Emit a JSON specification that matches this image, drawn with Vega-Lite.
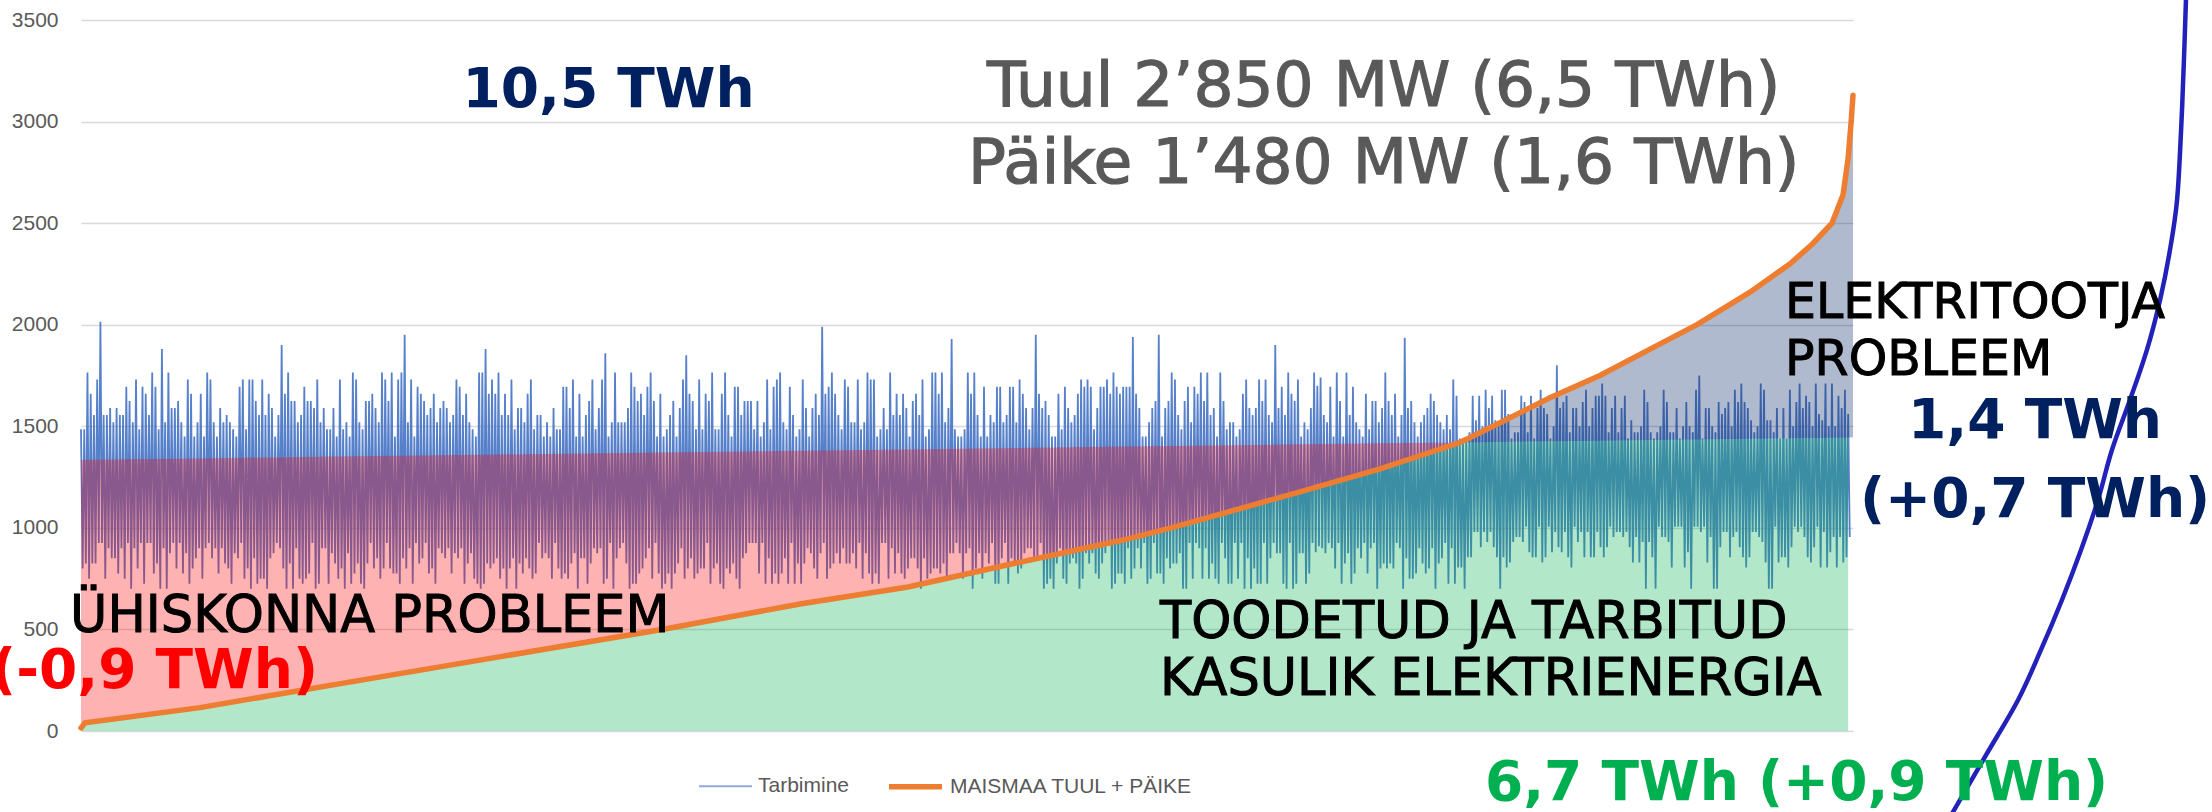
{
"$schema": "https://vega.github.io/schema/vega-lite/v6.json",
"autosize": {"type": "none"},
"width": 1772, "height": 711,
"padding": {"left": 81, "top": 20, "right": 359, "bottom": 81},
"background": "white",
"datasets": {
"cons": [
{"h":0,"c":1485},{"h":8,"c":800},{"h":16,"c":1485},{"h":24,"c":825},{"h":32,"c":1765},{"h":40,"c":750},{"h":48,"c":1660},{"h":56,"c":825},{"h":64,"c":1555},{"h":72,"c":825},
{"h":80,"c":1730},{"h":88,"c":925},{"h":96,"c":2015},{"h":104,"c":925},{"h":112,"c":1555},{"h":120,"c":750},{"h":128,"c":1555},{"h":136,"c":900},{"h":144,"c":1590},{"h":152,"c":850},
{"h":160,"c":1520},{"h":168,"c":850},{"h":176,"c":1590},{"h":184,"c":775},{"h":192,"c":1555},{"h":200,"c":900},{"h":208,"c":1555},{"h":216,"c":750},{"h":224,"c":1695},{"h":232,"c":925},
{"h":240,"c":1625},{"h":248,"c":700},{"h":256,"c":1520},{"h":264,"c":900},{"h":272,"c":1730},{"h":280,"c":800},{"h":288,"c":1485},{"h":296,"c":925},{"h":304,"c":1695},{"h":312,"c":725},
{"h":320,"c":1660},{"h":328,"c":925},{"h":336,"c":1555},{"h":344,"c":925},{"h":352,"c":1765},{"h":360,"c":775},{"h":368,"c":1695},{"h":376,"c":825},{"h":384,"c":1485},{"h":392,"c":700},
{"h":400,"c":1880},{"h":408,"c":900},{"h":416,"c":1520},{"h":424,"c":700},{"h":432,"c":1765},{"h":440,"c":875},{"h":448,"c":1590},{"h":456,"c":925},{"h":464,"c":1590},{"h":472,"c":800},
{"h":480,"c":1625},{"h":488,"c":925},{"h":496,"c":1520},{"h":504,"c":775},{"h":512,"c":1450},{"h":520,"c":875},{"h":528,"c":1730},{"h":536,"c":725},{"h":544,"c":1660},{"h":552,"c":800},
{"h":560,"c":1450},{"h":568,"c":850},{"h":576,"c":1520},{"h":584,"c":900},{"h":592,"c":1660},{"h":600,"c":750},{"h":608,"c":1450},{"h":616,"c":900},{"h":624,"c":1765},{"h":632,"c":925},
{"h":640,"c":1730},{"h":648,"c":850},{"h":656,"c":1520},{"h":664,"c":900},{"h":672,"c":1450},{"h":680,"c":775},{"h":688,"c":1590},{"h":696,"c":900},{"h":704,"c":1520},{"h":712,"c":825},
{"h":720,"c":1555},{"h":728,"c":800},{"h":736,"c":1520},{"h":744,"c":725},{"h":752,"c":1485},{"h":760,"c":875},{"h":768,"c":1450},{"h":776,"c":850},{"h":784,"c":1695},{"h":792,"c":925},
{"h":800,"c":1730},{"h":808,"c":750},{"h":816,"c":1485},{"h":824,"c":800},{"h":832,"c":1730},{"h":840,"c":700},{"h":848,"c":1730},{"h":856,"c":850},{"h":864,"c":1625},{"h":872,"c":725},
{"h":880,"c":1555},{"h":888,"c":750},{"h":896,"c":1730},{"h":904,"c":750},{"h":912,"c":1555},{"h":920,"c":700},{"h":928,"c":1660},{"h":936,"c":850},{"h":944,"c":1590},{"h":952,"c":875},
{"h":960,"c":1450},{"h":968,"c":925},{"h":976,"c":1555},{"h":984,"c":900},{"h":992,"c":1900},{"h":1000,"c":800},{"h":1008,"c":1660},{"h":1016,"c":700},{"h":1024,"c":1765},{"h":1032,"c":825},
{"h":1040,"c":1625},{"h":1048,"c":700},{"h":1056,"c":1625},{"h":1064,"c":900},{"h":1072,"c":1520},{"h":1080,"c":750},{"h":1088,"c":1555},{"h":1096,"c":725},{"h":1104,"c":1695},{"h":1112,"c":750},
{"h":1120,"c":1625},{"h":1128,"c":775},{"h":1136,"c":1625},{"h":1144,"c":925},{"h":1152,"c":1590},{"h":1160,"c":700},{"h":1168,"c":1730},{"h":1176,"c":725},{"h":1184,"c":1520},{"h":1192,"c":900},
{"h":1200,"c":1590},{"h":1208,"c":900},{"h":1216,"c":1485},{"h":1224,"c":725},{"h":1232,"c":1485},{"h":1240,"c":875},{"h":1248,"c":1590},{"h":1256,"c":825},{"h":1264,"c":1450},{"h":1272,"c":750},
{"h":1280,"c":1730},{"h":1288,"c":800},{"h":1296,"c":1485},{"h":1304,"c":700},{"h":1312,"c":1520},{"h":1320,"c":875},{"h":1328,"c":1450},{"h":1336,"c":725},{"h":1344,"c":1765},{"h":1352,"c":775},
{"h":1360,"c":1730},{"h":1368,"c":825},{"h":1376,"c":1520},{"h":1384,"c":725},{"h":1392,"c":1485},{"h":1400,"c":700},{"h":1408,"c":1625},{"h":1416,"c":825},{"h":1424,"c":1625},{"h":1432,"c":925},
{"h":1440,"c":1660},{"h":1448,"c":800},{"h":1456,"c":1590},{"h":1464,"c":850},{"h":1472,"c":1520},{"h":1480,"c":750},{"h":1488,"c":1765},{"h":1496,"c":800},{"h":1504,"c":1730},{"h":1512,"c":925},
{"h":1520,"c":1625},{"h":1528,"c":800},{"h":1536,"c":1765},{"h":1544,"c":775},{"h":1552,"c":1450},{"h":1560,"c":775},{"h":1568,"c":1730},{"h":1576,"c":725},{"h":1584,"c":1765},{"h":1592,"c":850},
{"h":1600,"c":1950},{"h":1608,"c":800},{"h":1616,"c":1520},{"h":1624,"c":900},{"h":1632,"c":1730},{"h":1640,"c":725},{"h":1648,"c":1450},{"h":1656,"c":925},{"h":1664,"c":1695},{"h":1672,"c":825},
{"h":1680,"c":1660},{"h":1688,"c":850},{"h":1696,"c":1625},{"h":1704,"c":925},{"h":1712,"c":1555},{"h":1720,"c":775},{"h":1728,"c":1590},{"h":1736,"c":800},{"h":1744,"c":1660},{"h":1752,"c":725},
{"h":1760,"c":1520},{"h":1768,"c":900},{"h":1776,"c":1590},{"h":1784,"c":875},{"h":1792,"c":1625},{"h":1800,"c":850},{"h":1808,"c":1590},{"h":1816,"c":900},{"h":1824,"c":1520},{"h":1832,"c":775},
{"h":1840,"c":1555},{"h":1848,"c":875},{"h":1856,"c":1730},{"h":1864,"c":850},{"h":1872,"c":1695},{"h":1880,"c":900},{"h":1888,"c":1555},{"h":1896,"c":725},{"h":1904,"c":1660},{"h":1912,"c":825},
{"h":1920,"c":1520},{"h":1928,"c":875},{"h":1936,"c":1485},{"h":1944,"c":750},{"h":1952,"c":1450},{"h":1960,"c":725},{"h":1968,"c":1765},{"h":1976,"c":700},{"h":1984,"c":1765},{"h":1992,"c":725},
{"h":2000,"c":1880},{"h":2008,"c":825},{"h":2016,"c":1660},{"h":2024,"c":800},{"h":2032,"c":1730},{"h":2040,"c":825},{"h":2048,"c":1660},{"h":2056,"c":850},{"h":2064,"c":1765},{"h":2072,"c":750},
{"h":2080,"c":1555},{"h":2088,"c":800},{"h":2096,"c":1660},{"h":2104,"c":700},{"h":2112,"c":1555},{"h":2120,"c":800},{"h":2128,"c":1730},{"h":2136,"c":850},{"h":2144,"c":1485},{"h":2152,"c":700},
{"h":2160,"c":1590},{"h":2168,"c":825},{"h":2176,"c":1590},{"h":2184,"c":775},{"h":2192,"c":1520},{"h":2200,"c":850},{"h":2208,"c":1660},{"h":2216,"c":800},{"h":2224,"c":1730},{"h":2232,"c":750},
{"h":2240,"c":1485},{"h":2248,"c":775},{"h":2256,"c":1555},{"h":2264,"c":925},{"h":2272,"c":1555},{"h":2280,"c":850},{"h":2288,"c":1450},{"h":2296,"c":875},{"h":2304,"c":1520},{"h":2312,"c":850},
{"h":2320,"c":1450},{"h":2328,"c":750},{"h":2336,"c":1590},{"h":2344,"c":925},{"h":2352,"c":1485},{"h":2360,"c":800},{"h":2368,"c":1485},{"h":2376,"c":750},{"h":2384,"c":1695},{"h":2392,"c":775},
{"h":2400,"c":1695},{"h":2408,"c":750},{"h":2416,"c":1590},{"h":2424,"c":825},{"h":2432,"c":1730},{"h":2440,"c":875},{"h":2448,"c":1450},{"h":2456,"c":700},{"h":2464,"c":1660},{"h":2472,"c":850},
{"h":2480,"c":1450},{"h":2488,"c":850},{"h":2496,"c":1555},{"h":2504,"c":725},{"h":2512,"c":1625},{"h":2520,"c":825},{"h":2528,"c":1730},{"h":2536,"c":900},{"h":2544,"c":1485},{"h":2552,"c":875},
{"h":2560,"c":1590},{"h":2568,"c":900},{"h":2576,"c":1730},{"h":2584,"c":725},{"h":2592,"c":1860},{"h":2600,"c":750},{"h":2608,"c":1450},{"h":2616,"c":925},{"h":2624,"c":1520},{"h":2632,"c":700},
{"h":2640,"c":1765},{"h":2648,"c":850},{"h":2656,"c":1520},{"h":2664,"c":900},{"h":2672,"c":1520},{"h":2680,"c":925},{"h":2688,"c":1520},{"h":2696,"c":825},{"h":2704,"c":1590},{"h":2712,"c":700},
{"h":2720,"c":1765},{"h":2728,"c":725},{"h":2736,"c":1695},{"h":2744,"c":725},{"h":2752,"c":1625},{"h":2760,"c":775},{"h":2768,"c":1660},{"h":2776,"c":800},{"h":2784,"c":1555},{"h":2792,"c":850},
{"h":2800,"c":1695},{"h":2808,"c":900},{"h":2816,"c":1765},{"h":2824,"c":750},{"h":2832,"c":1625},{"h":2840,"c":925},{"h":2848,"c":1450},{"h":2856,"c":775},{"h":2864,"c":1660},{"h":2872,"c":700},
{"h":2880,"c":1450},{"h":2888,"c":725},{"h":2896,"c":1485},{"h":2904,"c":775},{"h":2912,"c":1555},{"h":2920,"c":700},{"h":2928,"c":1625},{"h":2936,"c":775},{"h":2944,"c":1450},{"h":2952,"c":825},
{"h":2960,"c":1590},{"h":2968,"c":900},{"h":2976,"c":1730},{"h":2984,"c":750},{"h":2992,"c":1850},{"h":3000,"c":800},{"h":3008,"c":1660},{"h":3016,"c":850},{"h":3024,"c":1625},{"h":3032,"c":750},
{"h":3040,"c":1485},{"h":3048,"c":775},{"h":3056,"c":1730},{"h":3064,"c":800},{"h":3072,"c":1485},{"h":3080,"c":800},{"h":3088,"c":1660},{"h":3096,"c":925},{"h":3104,"c":1625},{"h":3112,"c":725},
{"h":3120,"c":1765},{"h":3128,"c":800},{"h":3136,"c":1485},{"h":3144,"c":825},{"h":3152,"c":1485},{"h":3160,"c":725},{"h":3168,"c":1660},{"h":3176,"c":700},{"h":3184,"c":1765},{"h":3192,"c":800},
{"h":3200,"c":1555},{"h":3208,"c":775},{"h":3216,"c":1450},{"h":3224,"c":825},{"h":3232,"c":1695},{"h":3240,"c":750},{"h":3248,"c":1695},{"h":3256,"c":700},{"h":3264,"c":1555},{"h":3272,"c":850},
{"h":3280,"c":1625},{"h":3288,"c":875},{"h":3296,"c":1625},{"h":3304,"c":925},{"h":3312,"c":1625},{"h":3320,"c":925},{"h":3328,"c":1485},{"h":3336,"c":925},{"h":3344,"c":1625},{"h":3352,"c":775},
{"h":3360,"c":1450},{"h":3368,"c":925},{"h":3376,"c":1520},{"h":3384,"c":725},{"h":3392,"c":1730},{"h":3400,"c":850},{"h":3408,"c":1485},{"h":3416,"c":725},{"h":3424,"c":1695},{"h":3432,"c":775},
{"h":3440,"c":1730},{"h":3448,"c":725},{"h":3456,"c":1765},{"h":3464,"c":775},{"h":3472,"c":1520},{"h":3480,"c":850},{"h":3488,"c":1485},{"h":3496,"c":725},{"h":3504,"c":1695},{"h":3512,"c":925},
{"h":3520,"c":1555},{"h":3528,"c":725},{"h":3536,"c":1450},{"h":3544,"c":825},{"h":3552,"c":1485},{"h":3560,"c":725},{"h":3568,"c":1730},{"h":3576,"c":825},{"h":3584,"c":1590},{"h":3592,"c":900},
{"h":3600,"c":1450},{"h":3608,"c":875},{"h":3616,"c":1590},{"h":3624,"c":800},{"h":3632,"c":1660},{"h":3640,"c":750},{"h":3648,"c":1555},{"h":3656,"c":875},{"h":3664,"c":1990},{"h":3672,"c":925},
{"h":3680,"c":1660},{"h":3688,"c":750},{"h":3696,"c":1695},{"h":3704,"c":800},{"h":3712,"c":1765},{"h":3720,"c":825},{"h":3728,"c":1660},{"h":3736,"c":875},{"h":3744,"c":1555},{"h":3752,"c":825},
{"h":3760,"c":1485},{"h":3768,"c":900},{"h":3776,"c":1730},{"h":3784,"c":825},{"h":3792,"c":1695},{"h":3800,"c":825},{"h":3808,"c":1520},{"h":3816,"c":875},{"h":3824,"c":1520},{"h":3832,"c":800},
{"h":3840,"c":1730},{"h":3848,"c":925},{"h":3856,"c":1485},{"h":3864,"c":750},{"h":3872,"c":1520},{"h":3880,"c":875},{"h":3888,"c":1765},{"h":3896,"c":775},{"h":3904,"c":1730},{"h":3912,"c":725},
{"h":3920,"c":1730},{"h":3928,"c":775},{"h":3936,"c":1450},{"h":3944,"c":725},{"h":3952,"c":1485},{"h":3960,"c":925},{"h":3968,"c":1590},{"h":3976,"c":925},{"h":3984,"c":1485},{"h":3992,"c":750},
{"h":4000,"c":1765},{"h":4008,"c":900},{"h":4016,"c":1555},{"h":4024,"c":775},{"h":4032,"c":1660},{"h":4040,"c":875},{"h":4048,"c":1555},{"h":4056,"c":775},{"h":4064,"c":1660},{"h":4072,"c":750},
{"h":4080,"c":1590},{"h":4088,"c":800},{"h":4096,"c":1450},{"h":4104,"c":850},{"h":4112,"c":1625},{"h":4120,"c":850},{"h":4128,"c":1660},{"h":4136,"c":800},{"h":4144,"c":1555},{"h":4152,"c":700},
{"h":4160,"c":1730},{"h":4168,"c":850},{"h":4176,"c":1450},{"h":4184,"c":750},{"h":4192,"c":1485},{"h":4200,"c":775},{"h":4208,"c":1765},{"h":4216,"c":800},{"h":4224,"c":1765},{"h":4232,"c":800},
{"h":4240,"c":1660},{"h":4248,"c":775},{"h":4256,"c":1765},{"h":4264,"c":825},{"h":4272,"c":1520},{"h":4280,"c":750},{"h":4288,"c":1590},{"h":4296,"c":875},{"h":4304,"c":1930},{"h":4312,"c":875},
{"h":4320,"c":1485},{"h":4328,"c":925},{"h":4336,"c":1450},{"h":4344,"c":875},{"h":4352,"c":1450},{"h":4360,"c":750},{"h":4368,"c":1485},{"h":4376,"c":875},{"h":4384,"c":1765},{"h":4392,"c":900},
{"h":4400,"c":1660},{"h":4408,"c":700},{"h":4416,"c":1765},{"h":4424,"c":800},{"h":4432,"c":1555},{"h":4440,"c":875},{"h":4448,"c":1450},{"h":4456,"c":750},{"h":4464,"c":1695},{"h":4472,"c":875},
{"h":4480,"c":1450},{"h":4488,"c":825},{"h":4496,"c":1555},{"h":4504,"c":925},{"h":4512,"c":1520},{"h":4520,"c":725},{"h":4528,"c":1695},{"h":4536,"c":725},{"h":4544,"c":1695},{"h":4552,"c":850},
{"h":4560,"c":1520},{"h":4568,"c":925},{"h":4576,"c":1555},{"h":4584,"c":725},{"h":4592,"c":1695},{"h":4600,"c":850},{"h":4608,"c":1695},{"h":4616,"c":825},{"h":4624,"c":1520},{"h":4632,"c":775},
{"h":4640,"c":1730},{"h":4648,"c":800},{"h":4656,"c":1660},{"h":4664,"c":875},{"h":4672,"c":1590},{"h":4680,"c":900},{"h":4688,"c":1485},{"h":4696,"c":900},{"h":4704,"c":1590},{"h":4712,"c":850},
{"h":4720,"c":1950},{"h":4728,"c":850},{"h":4736,"c":1660},{"h":4744,"c":925},{"h":4752,"c":1590},{"h":4760,"c":700},{"h":4768,"c":1625},{"h":4776,"c":725},{"h":4784,"c":1555},{"h":4792,"c":750},
{"h":4800,"c":1450},{"h":4808,"c":700},{"h":4816,"c":1450},{"h":4824,"c":825},{"h":4832,"c":1660},{"h":4840,"c":900},{"h":4848,"c":1485},{"h":4856,"c":750},{"h":4864,"c":1695},{"h":4872,"c":725},
{"h":4880,"c":1590},{"h":4888,"c":825},{"h":4896,"c":1520},{"h":4904,"c":850},{"h":4912,"c":1555},{"h":4920,"c":825},{"h":4928,"c":1660},{"h":4936,"c":700},{"h":4944,"c":1730},{"h":4952,"c":750},
{"h":4960,"c":1695},{"h":4968,"c":875},{"h":4976,"c":1730},{"h":4984,"c":825},{"h":4992,"c":1695},{"h":5000,"c":875},{"h":5008,"c":1485},{"h":5016,"c":775},{"h":5024,"c":1590},{"h":5032,"c":750},
{"h":5040,"c":1695},{"h":5048,"c":825},{"h":5056,"c":1695},{"h":5064,"c":875},{"h":5072,"c":1730},{"h":5080,"c":925},{"h":5088,"c":1660},{"h":5096,"c":700},{"h":5104,"c":1765},{"h":5112,"c":725},
{"h":5120,"c":1695},{"h":5128,"c":775},{"h":5136,"c":1660},{"h":5144,"c":775},{"h":5152,"c":1695},{"h":5160,"c":725},{"h":5168,"c":1695},{"h":5176,"c":900},{"h":5184,"c":1695},{"h":5192,"c":750},
{"h":5200,"c":1940},{"h":5208,"c":800},{"h":5216,"c":1660},{"h":5224,"c":900},{"h":5232,"c":1590},{"h":5240,"c":800},{"h":5248,"c":1450},{"h":5256,"c":925},{"h":5264,"c":1450},{"h":5272,"c":725},
{"h":5280,"c":1520},{"h":5288,"c":750},{"h":5296,"c":1590},{"h":5304,"c":925},{"h":5312,"c":1625},{"h":5320,"c":775},{"h":5328,"c":1950},{"h":5336,"c":775},{"h":5344,"c":1450},{"h":5352,"c":725},
{"h":5360,"c":1590},{"h":5368,"c":850},{"h":5376,"c":1625},{"h":5384,"c":800},{"h":5392,"c":1765},{"h":5400,"c":825},{"h":5408,"c":1730},{"h":5416,"c":825},{"h":5424,"c":1555},{"h":5432,"c":875},
{"h":5440,"c":1485},{"h":5448,"c":700},{"h":5456,"c":1625},{"h":5464,"c":700},{"h":5472,"c":1695},{"h":5480,"c":925},{"h":5488,"c":1520},{"h":5496,"c":750},{"h":5504,"c":1695},{"h":5512,"c":925},
{"h":5520,"c":1660},{"h":5528,"c":900},{"h":5536,"c":1765},{"h":5544,"c":750},{"h":5552,"c":1625},{"h":5560,"c":900},{"h":5568,"c":1765},{"h":5576,"c":750},{"h":5584,"c":1555},{"h":5592,"c":825},
{"h":5600,"c":1590},{"h":5608,"c":750},{"h":5616,"c":1450},{"h":5624,"c":725},{"h":5632,"c":1765},{"h":5640,"c":925},{"h":5648,"c":1625},{"h":5656,"c":850},{"h":5664,"c":1485},{"h":5672,"c":725},
{"h":5680,"c":1520},{"h":5688,"c":725},{"h":5696,"c":1520},{"h":5704,"c":925},{"h":5712,"c":1450},{"h":5720,"c":750},{"h":5728,"c":1485},{"h":5736,"c":925},{"h":5744,"c":1660},{"h":5752,"c":700},
{"h":5760,"c":1730},{"h":5768,"c":850},{"h":5776,"c":1590},{"h":5784,"c":700},{"h":5792,"c":1555},{"h":5800,"c":800},{"h":5808,"c":1590},{"h":5816,"c":725},{"h":5824,"c":1730},{"h":5832,"c":725},
{"h":5840,"c":1625},{"h":5848,"c":925},{"h":5856,"c":1730},{"h":5864,"c":725},{"h":5872,"c":1555},{"h":5880,"c":850},{"h":5888,"c":1520},{"h":5896,"c":925},{"h":5904,"c":1900},{"h":5912,"c":875},
{"h":5920,"c":1590},{"h":5928,"c":875},{"h":5936,"c":1695},{"h":5944,"c":725},{"h":5952,"c":1555},{"h":5960,"c":700},{"h":5968,"c":1765},{"h":5976,"c":925},{"h":5984,"c":1660},{"h":5992,"c":700},
{"h":6000,"c":1625},{"h":6008,"c":725},{"h":6016,"c":1730},{"h":6024,"c":875},{"h":6032,"c":1450},{"h":6040,"c":875},{"h":6048,"c":1520},{"h":6056,"c":725},{"h":6064,"c":1485},{"h":6072,"c":775},
{"h":6080,"c":1590},{"h":6088,"c":925},{"h":6096,"c":1765},{"h":6104,"c":880},{"h":6112,"c":1700},{"h":6120,"c":910},{"h":6128,"c":1740},{"h":6136,"c":900},{"h":6144,"c":1555},{"h":6152,"c":875},
{"h":6160,"c":1520},{"h":6168,"c":925},{"h":6176,"c":1695},{"h":6184,"c":900},{"h":6192,"c":1450},{"h":6200,"c":800},{"h":6208,"c":1765},{"h":6216,"c":925},{"h":6224,"c":1625},{"h":6232,"c":725},
{"h":6240,"c":1450},{"h":6248,"c":825},{"h":6256,"c":1765},{"h":6264,"c":875},{"h":6272,"c":1555},{"h":6280,"c":725},{"h":6288,"c":1695},{"h":6296,"c":775},{"h":6304,"c":1520},{"h":6312,"c":900},
{"h":6320,"c":1485},{"h":6328,"c":850},{"h":6336,"c":1450},{"h":6344,"c":925},{"h":6352,"c":1660},{"h":6360,"c":775},{"h":6368,"c":1485},{"h":6376,"c":900},{"h":6384,"c":1625},{"h":6392,"c":925},
{"h":6400,"c":1625},{"h":6408,"c":700},{"h":6416,"c":1520},{"h":6424,"c":800},{"h":6432,"c":1590},{"h":6440,"c":825},{"h":6448,"c":1765},{"h":6456,"c":800},{"h":6464,"c":1625},{"h":6472,"c":825},
{"h":6480,"c":1555},{"h":6488,"c":800},{"h":6496,"c":1660},{"h":6504,"c":925},{"h":6512,"c":1450},{"h":6520,"c":900},{"h":6528,"c":1555},{"h":6536,"c":700},{"h":6544,"c":1936},{"h":6552,"c":850},
{"h":6560,"c":1590},{"h":6568,"c":750},{"h":6576,"c":1625},{"h":6584,"c":750},{"h":6592,"c":1520},{"h":6600,"c":775},{"h":6608,"c":1450},{"h":6616,"c":900},{"h":6624,"c":1520},{"h":6632,"c":825},
{"h":6640,"c":1555},{"h":6648,"c":775},{"h":6656,"c":1590},{"h":6664,"c":800},{"h":6672,"c":1660},{"h":6680,"c":900},{"h":6688,"c":1625},{"h":6696,"c":700},{"h":6704,"c":1555},{"h":6712,"c":825},
{"h":6720,"c":1520},{"h":6728,"c":850},{"h":6736,"c":1485},{"h":6744,"c":925},{"h":6752,"c":1555},{"h":6760,"c":725},{"h":6768,"c":1485},{"h":6776,"c":900},{"h":6784,"c":1730},{"h":6792,"c":725},
{"h":6800,"c":1650},{"h":6808,"c":805},{"h":6816,"c":1440},{"h":6824,"c":805},{"h":6832,"c":1440},{"h":6840,"c":700},{"h":6848,"c":1440},{"h":6856,"c":855},{"h":6864,"c":1470},{"h":6872,"c":855},
{"h":6880,"c":1650},{"h":6888,"c":980},{"h":6896,"c":1530},{"h":6904,"c":980},{"h":6912,"c":1650},{"h":6920,"c":905},{"h":6928,"c":1500},{"h":6936,"c":980},{"h":6944,"c":1680},{"h":6952,"c":930},
{"h":6960,"c":1590},{"h":6968,"c":980},{"h":6976,"c":1650},{"h":6984,"c":905},{"h":6992,"c":1530},{"h":7000,"c":855},{"h":7008,"c":1500},{"h":7016,"c":700},{"h":7024,"c":1680},{"h":7032,"c":855},
{"h":7040,"c":1680},{"h":7048,"c":805},{"h":7056,"c":1560},{"h":7064,"c":830},{"h":7072,"c":1440},{"h":7080,"c":930},{"h":7088,"c":1470},{"h":7096,"c":955},{"h":7104,"c":1470},{"h":7112,"c":955},
{"h":7120,"c":1650},{"h":7128,"c":930},{"h":7136,"c":1620},{"h":7144,"c":1005},{"h":7152,"c":1470},{"h":7160,"c":880},{"h":7168,"c":1650},{"h":7176,"c":855},{"h":7184,"c":1440},{"h":7192,"c":855},
{"h":7200,"c":1590},{"h":7208,"c":1005},{"h":7216,"c":1680},{"h":7224,"c":830},{"h":7232,"c":1590},{"h":7240,"c":855},{"h":7248,"c":1560},{"h":7256,"c":1005},{"h":7264,"c":1440},{"h":7272,"c":880},
{"h":7280,"c":1500},{"h":7288,"c":980},{"h":7296,"c":1800},{"h":7304,"c":905},{"h":7312,"c":1590},{"h":7320,"c":880},{"h":7328,"c":1620},{"h":7336,"c":980},{"h":7344,"c":1650},{"h":7352,"c":855},
{"h":7360,"c":1470},{"h":7368,"c":805},{"h":7376,"c":1590},{"h":7384,"c":1005},{"h":7392,"c":1590},{"h":7400,"c":930},{"h":7408,"c":1500},{"h":7416,"c":980},{"h":7424,"c":1620},{"h":7432,"c":855},
{"h":7440,"c":1680},{"h":7448,"c":980},{"h":7456,"c":1500},{"h":7464,"c":855},{"h":7472,"c":1590},{"h":7480,"c":855},{"h":7488,"c":1650},{"h":7496,"c":980},{"h":7504,"c":1650},{"h":7512,"c":905},
{"h":7520,"c":1710},{"h":7528,"c":855},{"h":7536,"c":1650},{"h":7544,"c":905},{"h":7552,"c":1470},{"h":7560,"c":1005},{"h":7568,"c":1590},{"h":7576,"c":955},{"h":7584,"c":1650},{"h":7592,"c":980},
{"h":7600,"c":1470},{"h":7608,"c":980},{"h":7616,"c":1590},{"h":7624,"c":955},{"h":7632,"c":1650},{"h":7640,"c":980},{"h":7648,"c":1440},{"h":7656,"c":905},{"h":7664,"c":1530},{"h":7672,"c":830},
{"h":7680,"c":1470},{"h":7688,"c":955},{"h":7696,"c":1470},{"h":7704,"c":830},{"h":7712,"c":1500},{"h":7720,"c":930},{"h":7728,"c":1680},{"h":7736,"c":700},{"h":7744,"c":1620},{"h":7752,"c":930},
{"h":7760,"c":1470},{"h":7768,"c":855},{"h":7776,"c":1440},{"h":7784,"c":700},{"h":7792,"c":1470},{"h":7800,"c":1005},{"h":7808,"c":1500},{"h":7816,"c":955},{"h":7824,"c":1680},{"h":7832,"c":955},
{"h":7840,"c":1620},{"h":7848,"c":930},{"h":7856,"c":1470},{"h":7864,"c":805},{"h":7872,"c":1470},{"h":7880,"c":1005},{"h":7888,"c":1590},{"h":7896,"c":1005},{"h":7904,"c":1440},{"h":7912,"c":1005},
{"h":7920,"c":1500},{"h":7928,"c":805},{"h":7936,"c":1620},{"h":7944,"c":880},{"h":7952,"c":1500},{"h":7960,"c":700},{"h":7968,"c":1470},{"h":7976,"c":1005},{"h":7984,"c":1680},{"h":7992,"c":1005},
{"h":8000,"c":1750},{"h":8008,"c":980},{"h":8016,"c":1440},{"h":8024,"c":1005},{"h":8032,"c":1590},{"h":8040,"c":830},{"h":8048,"c":1590},{"h":8056,"c":955},{"h":8064,"c":1500},{"h":8072,"c":700},
{"h":8080,"c":1470},{"h":8088,"c":700},{"h":8096,"c":1620},{"h":8104,"c":905},{"h":8112,"c":1560},{"h":8120,"c":980},{"h":8128,"c":1590},{"h":8136,"c":980},{"h":8144,"c":1620},{"h":8152,"c":855},
{"h":8160,"c":1500},{"h":8168,"c":955},{"h":8176,"c":1680},{"h":8184,"c":980},{"h":8192,"c":1620},{"h":8200,"c":905},{"h":8208,"c":1710},{"h":8216,"c":855},{"h":8224,"c":1620},{"h":8232,"c":805},
{"h":8240,"c":1590},{"h":8248,"c":855},{"h":8256,"c":1530},{"h":8264,"c":980},{"h":8272,"c":1470},{"h":8280,"c":980},{"h":8288,"c":1500},{"h":8296,"c":955},{"h":8304,"c":1710},{"h":8312,"c":930},
{"h":8320,"c":1680},{"h":8328,"c":830},{"h":8336,"c":1530},{"h":8344,"c":700},{"h":8352,"c":1530},{"h":8360,"c":700},{"h":8368,"c":1470},{"h":8376,"c":1005},{"h":8384,"c":1590},{"h":8392,"c":830},
{"h":8400,"c":1440},{"h":8408,"c":855},{"h":8416,"c":1590},{"h":8424,"c":855},{"h":8432,"c":1440},{"h":8440,"c":805},{"h":8448,"c":1680},{"h":8456,"c":905},{"h":8464,"c":1500},{"h":8472,"c":1005},
{"h":8480,"c":1620},{"h":8488,"c":980},{"h":8496,"c":1710},{"h":8504,"c":1005},{"h":8512,"c":1590},{"h":8520,"c":955},{"h":8528,"c":1650},{"h":8536,"c":855},{"h":8544,"c":1620},{"h":8552,"c":830},
{"h":8560,"c":1500},{"h":8568,"c":905},{"h":8576,"c":1710},{"h":8584,"c":1005},{"h":8592,"c":1560},{"h":8600,"c":805},{"h":8608,"c":1530},{"h":8616,"c":980},{"h":8624,"c":1710},{"h":8632,"c":805},
{"h":8640,"c":1500},{"h":8648,"c":880},{"h":8656,"c":1710},{"h":8664,"c":955},{"h":8672,"c":1500},{"h":8680,"c":805},{"h":8688,"c":1650},{"h":8696,"c":955},{"h":8704,"c":1590},{"h":8712,"c":830},
{"h":8720,"c":1680},{"h":8728,"c":855},{"h":8736,"c":1560},{"h":8744,"c":955}
],
"curve": [
{"h":0,"p":15,"l":1335},{"h":20,"p":40,"l":1335},{"h":588,"p":115,"l":1342},{"h":1246,"p":227,"l":1351},{"h":1972,"p":349,"l":1360},{"h":2872,"p":500,"l":1371},{"h":3554,"p":625,"l":1380},{"h":4088,"p":709,"l":1386},{"h":4622,"p":827,"l":1393},{"h":5151,"p":940,"l":1400},{"h":5389,"p":1000,"l":1403},{"h":6026,"p":1177,"l":1411},{"h":6422,"p":1290,"l":1416},{"h":6817,"p":1420,"l":1420},{"h":6980,"p":1500,"l":1423},{"h":7262,"p":1640,"l":1426},{"h":7509,"p":1750,"l":1429},{"h":7757,"p":1880,"l":1432},{"h":7989,"p":2000,"l":1435},{"h":8251,"p":2160,"l":1439},{"h":8449,"p":2300,"l":1441},{"h":8562,"p":2400,"l":1442},{"h":8656,"p":2500,"l":1444},{"h":8711,"p":2640,"l":1444},{"h":8736,"p":2820,"l":1445},{"h":8751,"p":3000,"l":1445},{"h":8760,"p":3130,"l":1445}
],
"arc": [
{"h":10411,"v":3647},{"h":10406,"v":3598},{"h":10396,"v":3303},{"h":10382,"v":2959},{"h":10362,"v":2614},{"h":10327,"v":2368},{"h":10278,"v":2122},{"h":10213,"v":1876},{"h":10129,"v":1629},{"h":10040,"v":1383},{"h":9971,"v":1137},{"h":9887,"v":891},{"h":9793,"v":645},{"h":9689,"v":399},{"h":9576,"v":153},{"h":9418,"v":-118},{"h":9254,"v":-399},{"h":9215,"v":-463}
]
},
"layer": [
{
"data": {"name": "cons"},
"mark": {"type": "line", "color": "#4472C4", "strokeWidth": 1.8, "opacity": 0.9, "strokeJoin": "bevel", "clip": false},
"encoding": {
"x": {"field": "h", "type": "quantitative", "title": null, "scale": {"domain": [0, 8760], "nice": false, "zero": false}},
"y": {"field": "c", "type": "quantitative", "title": null, "scale": {"domain": [0, 3500], "nice": false},
 "axis": {"values": [0,500,1000,1500,2000,2500,3000,3500], "format": "d"}}
}
},
{
"data": {"name": "curve"},
"transform": [{"filter": "datum.h <= 6817"}],
"mark": {"type": "area", "color": "#FF0000", "opacity": 0.3},
"encoding": {"x": {"field": "h", "type": "quantitative", "title": null}, "y": {"field": "p", "type": "quantitative", "title": null}, "y2": {"field": "l"}}
},
{
"data": {"name": "curve"},
"transform": [{"filter": "datum.h <= 6817"}],
"mark": {"type": "area", "color": "#00B050", "opacity": 0.3},
"encoding": {"x": {"field": "h", "type": "quantitative", "title": null}, "y": {"field": "p", "type": "quantitative", "title": null}}
},
{
"data": {"name": "curve"},
"transform": [{"filter": "datum.h >= 6817 && datum.h <= 8736"}],
"mark": {"type": "area", "color": "#00B050", "opacity": 0.3},
"encoding": {"x": {"field": "h", "type": "quantitative", "title": null}, "y": {"field": "l", "type": "quantitative", "title": null}}
},
{
"data": {"name": "curve"},
"transform": [{"filter": "datum.h >= 6817"}],
"mark": {"type": "area", "color": "#002060", "opacity": 0.31},
"encoding": {"x": {"field": "h", "type": "quantitative", "title": null}, "y": {"field": "l", "type": "quantitative", "title": null}, "y2": {"field": "p"}}
},
{
"data": {"name": "curve"},
"mark": {"type": "line", "color": "#ED7D31", "strokeWidth": 5.5, "strokeCap": "round", "clip": false},
"encoding": {"x": {"field": "h", "type": "quantitative", "title": null}, "y": {"field": "p", "type": "quantitative", "title": null}}
},
{
"data": {"values": []},
"mark": {"type": "line"},
"encoding": {
"x": {"field": "h", "type": "quantitative", "title": null},
"y": {"field": "c", "type": "quantitative", "title": null},
"color": {"field": "s", "type": "nominal", "scale": {"domain": ["Tarbimine", "MAISMAA TUUL + PÄIKE"], "range": ["#8FAADC", "#ED7D31"]}, "legend": {"title": null}},
"strokeWidth": {"field": "s", "type": "nominal", "scale": {"domain": ["Tarbimine", "MAISMAA TUUL + PÄIKE"], "range": [2, 5.5]}, "legend": {"title": null}}
}
},
{
"data": {"name": "arc"},
"mark": {"type": "line", "color": "#2222BB", "strokeWidth": 4.5, "interpolate": "cardinal", "clip": false},
"encoding": {"x": {"field": "h", "type": "quantitative", "title": null}, "y": {"field": "v", "type": "quantitative", "title": null}}
},
{"data": {"values": [{}]}, "mark": {"type": "text", "font": "DejaVu Sans", "fontWeight": "bold", "fontSize": 55, "color": "#002060", "align": "center", "baseline": "alphabetic"},
 "encoding": {"x": {"datum": 2608, "type": "quantitative", "title": null}, "y": {"datum": 3072, "type": "quantitative", "title": null}, "text": {"value": "10,5 TWh"}}},
{"data": {"values": [{}]}, "mark": {"type": "text", "font": "DejaVu Sans", "fontSize": 63, "color": "#595959", "stroke": "#595959", "strokeWidth": 1.2, "align": "center", "baseline": "alphabetic"},
 "encoding": {"x": {"datum": 6440, "type": "quantitative", "title": null}, "y": {"datum": 3077, "type": "quantitative", "title": null}, "text": {"value": "Tuul 2’850 MW (6,5 TWh)"}}},
{"data": {"values": [{}]}, "mark": {"type": "text", "font": "DejaVu Sans", "fontSize": 63, "color": "#595959", "stroke": "#595959", "strokeWidth": 1.2, "align": "center", "baseline": "alphabetic"},
 "encoding": {"x": {"datum": 6440, "type": "quantitative", "title": null}, "y": {"datum": 2698, "type": "quantitative", "title": null}, "text": {"value": "Päike 1’480 MW (1,6 TWh)"}}},
{"data": {"values": [{}]}, "mark": {"type": "text", "font": "DejaVu Sans", "fontSize": 49, "color": "#000000", "stroke": "#000000", "strokeWidth": 1, "align": "left", "baseline": "alphabetic"},
 "encoding": {"x": {"datum": 8424, "type": "quantitative", "title": null}, "y": {"datum": 2033, "type": "quantitative", "title": null}, "text": {"value": "ELEKTRITOOTJA"}}},
{"data": {"values": [{}]}, "mark": {"type": "text", "font": "DejaVu Sans", "fontSize": 49, "color": "#000000", "stroke": "#000000", "strokeWidth": 1, "align": "left", "baseline": "alphabetic"},
 "encoding": {"x": {"datum": 8424, "type": "quantitative", "title": null}, "y": {"datum": 1752, "type": "quantitative", "title": null}, "text": {"value": "PROBLEEM"}}},
{"data": {"values": [{}]}, "mark": {"type": "text", "font": "DejaVu Sans", "fontWeight": "bold", "fontSize": 55, "color": "#002060", "align": "center", "baseline": "alphabetic"},
 "encoding": {"x": {"datum": 9660, "type": "quantitative", "title": null}, "y": {"datum": 1442, "type": "quantitative", "title": null}, "text": {"value": "1,4 TWh"}}},
{"data": {"values": [{}]}, "mark": {"type": "text", "font": "DejaVu Sans", "fontWeight": "bold", "fontSize": 55, "color": "#002060", "align": "center", "baseline": "alphabetic"},
 "encoding": {"x": {"datum": 9660, "type": "quantitative", "title": null}, "y": {"datum": 1053, "type": "quantitative", "title": null}, "text": {"value": "(+0,7 TWh)"}}},
{"data": {"values": [{}]}, "mark": {"type": "text", "font": "DejaVu Sans", "fontSize": 51, "color": "#000000", "stroke": "#000000", "strokeWidth": 1, "align": "left", "baseline": "alphabetic"},
 "encoding": {"x": {"datum": -54, "type": "quantitative", "title": null}, "y": {"datum": 487, "type": "quantitative", "title": null}, "text": {"value": "ÜHISKONNA PROBLEEM"}}},
{"data": {"values": [{}]}, "mark": {"type": "text", "font": "DejaVu Sans", "fontWeight": "bold", "fontSize": 55, "color": "#FF0000", "align": "right", "baseline": "alphabetic"},
 "encoding": {"x": {"datum": 1172, "type": "quantitative", "title": null}, "y": {"datum": 212, "type": "quantitative", "title": null}, "text": {"value": "(-0,9 TWh)"}}},
{"data": {"values": [{}]}, "mark": {"type": "text", "font": "DejaVu Sans", "fontSize": 51, "color": "#000000", "stroke": "#000000", "strokeWidth": 1, "align": "left", "baseline": "alphabetic"},
 "encoding": {"x": {"datum": 5334, "type": "quantitative", "title": null}, "y": {"datum": 458, "type": "quantitative", "title": null}, "text": {"value": "TOODETUD JA TARBITUD"}}},
{"data": {"values": [{}]}, "mark": {"type": "text", "font": "DejaVu Sans", "fontSize": 51, "color": "#000000", "stroke": "#000000", "strokeWidth": 1, "align": "left", "baseline": "alphabetic"},
 "encoding": {"x": {"datum": 5334, "type": "quantitative", "title": null}, "y": {"datum": 177, "type": "quantitative", "title": null}, "text": {"value": "KASULIK ELEKTRIENERGIA"}}},
{"data": {"values": [{}]}, "mark": {"type": "text", "font": "DejaVu Sans", "fontWeight": "bold", "fontSize": 55, "color": "#00B050", "align": "center", "baseline": "alphabetic"},
 "encoding": {"x": {"datum": 8481, "type": "quantitative", "title": null}, "y": {"datum": -340, "type": "quantitative", "title": null}, "text": {"value": "6,7 TWh (+0,9 TWh)"}}}
],
"config": {
"view": {"stroke": null},
"axisX": {"labels": false, "ticks": false, "domain": false, "grid": false, "title": null},
"axisY": {"domain": false, "ticks": false, "labelPadding": 23, "grid": true, "gridColor": "#D9D9D9", "gridWidth": 1.5, "labelFont": "Liberation Sans", "labelFontSize": 21, "labelColor": "#595959", "title": null},
"legend": {"orient": "none", "legendX": 617, "legendY": 737, "direction": "horizontal", "symbolType": "stroke", "symbolSize": 2809, "labelFont": "Liberation Sans", "labelFontSize": 21, "labelColor": "#595959", "labelOffset": 5, "labelLimit": 400, "columnPadding": 28, "padding": 0}
}
}
